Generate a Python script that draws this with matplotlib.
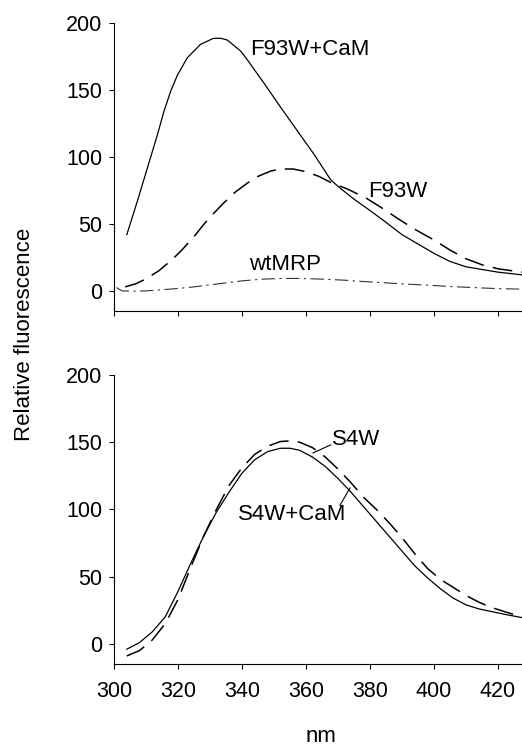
import matplotlib
matplotlib.use('Agg')
import matplotlib.pyplot as plt
import numpy as np

plt.rcParams['font.family'] = ['Liberation Sans', 'DejaVu Sans']

# panel A: F93W+CaM (solid), F93W (dashed), wtMRP (dash-dot)
nm_cam = [304, 307.3, 310.4, 313.5, 315.6, 317.7, 319.8, 322.9, 327, 331, 333.3, 335.4,
          339.6, 341.7, 346.9, 352.1, 357.3, 362.5, 367.7, 370, 375, 380, 384, 390,
          395, 400, 405, 410, 415, 420, 427.5]
f93w_cam = [42, 67, 91.5, 116, 134, 149, 161, 174, 184, 188.5, 188.6, 187.3,
            179, 172.4, 155, 137, 119.5, 102, 83, 78, 68.5, 60, 53, 42,
            35, 28, 22, 18, 16, 14, 12]

nm_f93w = [303.5, 307, 310, 314, 318, 321, 325, 328, 331, 334, 338, 342, 345, 349, 352,
           356, 360, 364, 367.7, 373, 379, 384, 389, 394, 400, 405, 410, 415, 420, 427.5]
f93w = [3, 5.5, 9, 15, 23, 30, 40.5, 49.5, 57.5, 65, 74, 81, 85.5, 89.5, 91,
        91, 89, 85.5, 81, 76, 69, 61.5, 53.5, 46, 38, 30.5, 24, 19.5, 16.5, 14]

nm_wt = [300.8, 302.5, 306, 310, 314, 320, 325, 330, 335, 340, 346, 352, 358, 365, 372,
         378, 385, 392, 398, 405, 412, 420, 427.5]
wtmrp = [2.5, 0, -0.2, 0, 0.7, 1.8, 3, 4.5, 6, 7.5, 8.7, 9.3, 9.3, 8.8, 8,
         7, 6, 5, 4.3, 3.3, 2.5, 1.7, 1.3]

# panel B: S4W (dashed), S4W+CaM (solid)
nm_s4w = [304, 308, 312, 316, 320, 324, 328, 332, 336, 340, 344, 348, 352, 355, 358, 362,
          366, 370, 374, 378, 382, 386, 390, 394, 398, 402, 406, 410, 414, 418, 422, 427.5]
s4w = [-9, -5, 3, 15, 33, 57, 80, 100, 118, 131, 141, 147, 150.5, 151, 150, 146,
       139, 130, 120, 109, 100, 90, 79, 67, 56, 48, 42, 36, 31, 27, 24, 20]
s4w_cam = [-4, 1, 9, 20, 39, 60, 80, 98, 113, 127, 137, 143, 145.5, 145.5, 144, 139,
           132, 123, 113, 102, 91, 80, 69, 58, 49, 41, 34, 29, 26, 24, 22, 19.5]

yticks = [0, 50, 100, 150, 200]
xticks = [300, 320, 340, 360, 380, 400, 420]

W, H = 522, 746
fig = plt.figure(figsize=(W / 100, H / 100), dpi=100)
ax1 = fig.add_axes([114 / W, 1 - 311 / H, 1 - 114 / W, (311 - 23) / H])
ax2 = fig.add_axes([114 / W, 1 - 664 / H, 1 - 114 / W, (664 - 375) / H])

ax1.plot(nm_cam, f93w_cam, color='black', lw=0.9)
ax1.plot(nm_f93w, f93w, color='black', lw=1.1, dashes=(13, 6))
ax1.plot(nm_wt, wtmrp, color='#333333', lw=0.8, dashes=(12, 4, 2, 4))

ax2.plot(nm_s4w, s4w, color='black', lw=1.1, dashes=(13, 6))
ax2.plot(nm_s4w, s4w_cam, color='black', lw=0.9)

for ax in (ax1, ax2):
    ax.set_xlim(300, 427.5)
    ax.set_ylim(-15, 200)
    ax.set_yticks(yticks)
    ax.set_xticks(xticks)
    ax.spines['top'].set_visible(False)
    ax.spines['right'].set_visible(False)
    ax.spines['left'].set_linewidth(0.8)
    ax.spines['bottom'].set_linewidth(0.8)
    ax.tick_params(direction='out', length=3.5, width=0.8, labelsize=15.5, pad=5)
ax1.tick_params(axis='x', labelbottom=False)
ax2.tick_params(axis='x', pad=9)

fs = 16
ax1.text(342.5, 180, 'F93W+CaM', fontsize=fs, va='center', ha='left')
ax1.text(379.4, 74, 'F93W', fontsize=fs, va='center', ha='left')
ax1.text(342.2, 19.5, 'wtMRP', fontsize=fs, va='center', ha='left')

ax2.text(368, 152, 'S4W', fontsize=fs, va='center', ha='left')
ax2.plot([362.2, 367.7], [142, 148], color='black', lw=0.8)
ax2.text(338.8, 96, 'S4W+CaM', fontsize=fs, va='center', ha='left')
ax2.plot([370.6, 373.75], [103, 116], color='black', lw=0.8)

fig.text(25 / W, 1 - 334.5 / H, 'Relative fluorescence', rotation=90,
         fontsize=fs, ha='center', va='center')
fig.text(321 / W, 1 - 737 / H, 'nm', fontsize=fs, ha='center', va='center')

fig.savefig('out.png', dpi=100)
